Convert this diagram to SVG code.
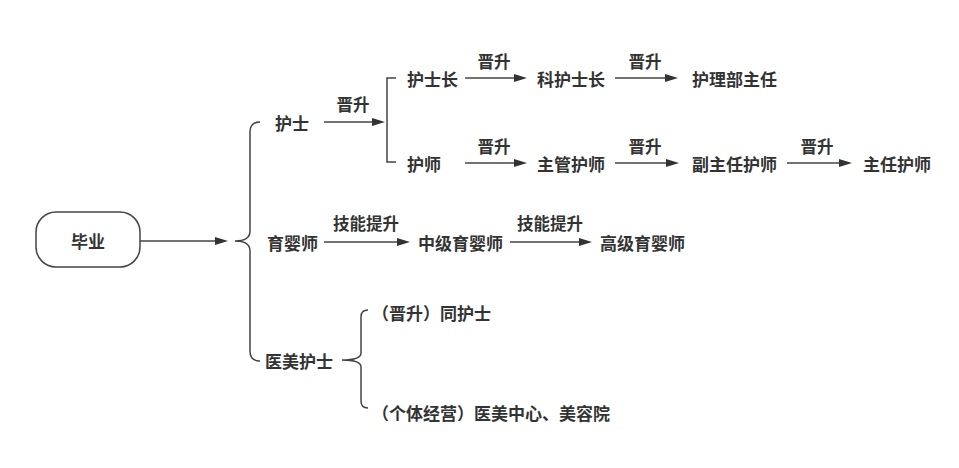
<svg xmlns="http://www.w3.org/2000/svg" width="959" height="468" viewBox="0 0 959 468">
<style>
text{font-family:"Noto Sans CJK SC","Noto Sans",sans-serif;font-size:17px;font-weight:bold;fill:#333;dominant-baseline:central}
.lbl{text-anchor:middle;font-size:16.5px}
.ln{fill:none;stroke:#444;stroke-width:1.5}
.ar{fill:none;stroke:#444;stroke-width:1.5;marker-end:url(#ah)}
</style>
<defs>
<marker id="ah" markerUnits="userSpaceOnUse" viewBox="0 0 13 8" refX="9" refY="4" markerWidth="13" markerHeight="8" orient="auto">
<path d="M0,0 L13,4 L0,8 z" fill="#333"/>
</marker>
</defs>
<rect width="959" height="468" fill="#fff"/>
<g id="connectors">
<line class="ar" x1="140" y1="241" x2="224" y2="241"/>
<path class="ln" d="M260,122 Q250,122 250,132 L250,231 Q250,241 235,241 Q250,241 250,251 L250,351 Q250,361 260,361"/>
<line class="ar" x1="324" y1="122" x2="381" y2="122"/>
<path class="ln" d="M396,78 L387,78 L387,162 L396,162"/>
<line class="ar" x1="465" y1="78" x2="523" y2="78"/>
<line class="ar" x1="615" y1="78" x2="674" y2="78"/>
<line class="ar" x1="465" y1="163" x2="523" y2="163"/>
<line class="ar" x1="615" y1="163" x2="675" y2="163"/>
<line class="ar" x1="787" y1="163" x2="848" y2="163"/>
<line class="ar" x1="324" y1="242" x2="406" y2="242"/>
<line class="ar" x1="510" y1="242" x2="588" y2="242"/>
<path class="ln" d="M368,310 Q361,310 361,317 L361,353 Q361,360 342,360 Q361,360 361,367 L361,401 Q361,408 368,408"/>
</g>
<g id="labels">
<text class="lbl" x="353" y="104">晋升</text>
<text class="lbl" x="494" y="61">晋升</text>
<text class="lbl" x="645" y="61">晋升</text>
<text class="lbl" x="494" y="146">晋升</text>
<text class="lbl" x="645" y="146">晋升</text>
<text class="lbl" x="817" y="146">晋升</text>
<text class="lbl" x="366" y="223">技能提升</text>
<text class="lbl" x="550" y="223">技能提升</text>
</g>
<g id="n-biye"><rect x="36" y="212" width="104" height="55" rx="20" fill="#fff" stroke="#444" stroke-width="1.5"/><text x="88" y="240" text-anchor="middle">毕业</text></g>
<g id="n-hushi"><text x="275" y="122">护士</text></g>
<g id="n-hushizhang"><text x="407" y="78">护士长</text></g>
<g id="n-kehushizhang"><text x="537" y="78">科护士长</text></g>
<g id="n-hulibuzhuren"><text x="692" y="78">护理部主任</text></g>
<g id="n-hushi2"><text x="407" y="163">护师</text></g>
<g id="n-zhuguanhushi"><text x="537" y="163">主管护师</text></g>
<g id="n-fuzhurenhushi"><text x="692" y="163">副主任护师</text></g>
<g id="n-zhurenhushi"><text x="863" y="163">主任护师</text></g>
<g id="n-yuyingshi"><text x="267" y="242">育婴师</text></g>
<g id="n-zhongji"><text x="418" y="242">中级育婴师</text></g>
<g id="n-gaoji"><text x="600" y="242">高级育婴师</text></g>
<g id="n-yimei"><text x="265" y="360">医美护士</text></g>
<g id="n-tonghushi"><text x="372" y="312">（晋升）同护士</text></g>
<g id="n-geti"><text x="372" y="412">（个体经营）医美中心、美容院</text></g>
</svg>
